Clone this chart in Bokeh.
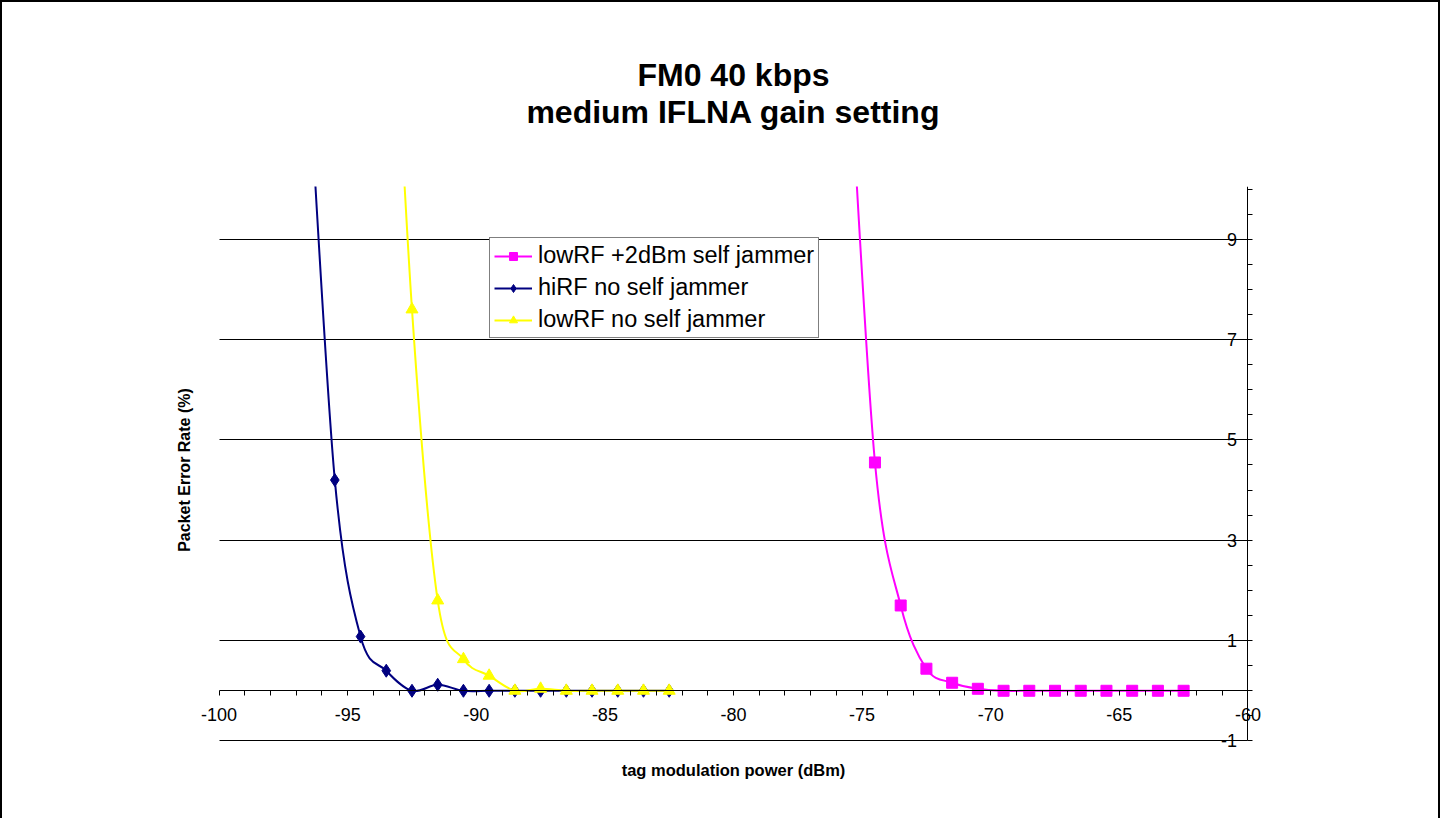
import numpy as np
from bokeh.plotting import figure
from bokeh.models import (FixedTicker, Range1d, Title, Legend, LegendItem,
                          ColumnDataSource, LabelSet, Grid)
from bokeh.core.properties import value
from bokeh.embed import file_html
from bokeh.resources import INLINE

# ---------------- data ----------------
x_hirf = [-96.5, -95.5, -94.5, -93.5, -92.5, -91.5, -90.5, -89.5, -88.5, -87.5, -86.5, -85.5, -84.5, -83.5, -82.5]
y_hirf = [12.2, 4.2, 1.08, 0.4, 0.0, 0.12, 0.0, 0.0, 0.0, 0.0, 0.0, 0.0, 0.0, 0.0, 0.0]

x_lowrf = [-93.5, -92.5, -91.5, -90.5, -89.5, -88.5, -87.5, -86.5, -85.5, -84.5, -83.5, -82.5]
y_lowrf = [17.0, 7.6, 1.8, 0.63, 0.3, 0.0, 0.04, 0.0, 0.0, 0.0, 0.0, 0.0]

x_jam = [-75.5, -74.5, -73.5, -72.5, -71.5, -70.5, -69.5, -68.5, -67.5, -66.5, -65.5, -64.5, -63.5, -62.5]
y_jam = [12.7, 4.55, 1.7, 0.44, 0.16, 0.04, 0.0, 0.0, 0.0, 0.0, 0.0, 0.0, 0.0, 0.0]

series_names = ["lowRF +2dBm self jammer", "hiRF no self jammer", "lowRF no self jammer"]

x_ticks = [-100, -95, -90, -85, -80, -75, -70, -65, -60]
x_tick_labels = ["-100", "-95", "-90", "-85", "-80", "-75", "-70", "-65", "-60"]
x_minor_ticks = list(range(-100, -59))
y_ticks = [-1, 1, 3, 5, 7, 9]
y_tick_labels = ["-1", "1", "3", "5", "7", "9"]
y_minor_ticks = list(np.arange(-1, 10.01, 0.5))

title_lines = ["FM0 40 kbps", "medium IFLNA gain setting"]
x_title = "tag modulation power (dBm)"
y_title = "Packet Error Rate (%)"

FONT = "Liberation Sans"
X_MIN, X_MAX = -100, -60


def smooth_segments(xs, ys):
    """Bezier control points for a smoothed line through the data points."""
    xs = np.asarray(xs, float)
    ys = np.asarray(ys, float)
    n = len(xs)
    xp = np.concatenate([[xs[0]], xs, [xs[-1]]])
    yp = np.concatenate([[ys[0]], ys, [ys[-1]]])
    cx0 = xp[1:n] + (xp[2:n + 1] - xp[0:n - 1]) / 6.0
    cy0 = yp[1:n] + (yp[2:n + 1] - yp[0:n - 1]) / 6.0
    cx1 = xp[2:n + 1] - (xp[3:n + 2] - xp[1:n]) / 6.0
    cy1 = yp[2:n + 1] - (yp[3:n + 2] - yp[1:n]) / 6.0
    return dict(x0=xs[:-1], y0=ys[:-1], x1=xs[1:], y1=ys[1:],
                cx0=cx0, cy0=cy0, cx1=cx1, cy1=cy1)


p = figure(width=1440, height=818, output_backend="svg", toolbar_location=None,
           x_range=Range1d(-100.8, -59.2), y_range=Range1d(-1.25, 10.05),
           y_axis_location="right",
           min_border_left=196, min_border_right=174, min_border_top=184, min_border_bottom=67)
p.styles = {"border-left": "2px solid black", "border-top": "2px solid black",
            "border-right": "2px solid black"}
p.outline_line_color = None
p.background_fill_color = "white"
p.border_fill_color = "white"

# x axis crossing at y = 0
xax = p.xaxis[0]
xax.fixed_location = 0
xax.bounds = (X_MIN, X_MAX)
xax.ticker = FixedTicker(ticks=[], minor_ticks=x_minor_ticks)
xax.axis_line_color = "black"
xax.major_tick_in = 0
xax.major_tick_out = 0
xax.minor_tick_in = 0
xax.minor_tick_out = 5
xax.minor_tick_line_color = "black"
xax.major_label_standoff = 0

# y axis at x = -60
yax = p.yaxis[0]
yax.fixed_location = X_MAX
yax.bounds = (-1, 10.05)
yax.ticker = FixedTicker(ticks=[], minor_ticks=y_minor_ticks)
yax.axis_line_color = "black"
yax.major_tick_in = 0
yax.major_tick_out = 0
yax.minor_tick_in = 0
yax.minor_tick_out = 5
yax.minor_tick_line_color = "black"
yax.major_label_standoff = 0

# horizontal grid lines at the labelled values, limited to the axis span
p.xgrid.visible = False
if "cross_bounds" in Grid.properties():
    p.ygrid.ticker = FixedTicker(ticks=y_ticks)
    p.ygrid.cross_bounds = (X_MIN, X_MAX)
    p.ygrid.grid_line_color = "black"
    p.ygrid.grid_line_width = 1
else:
    p.ygrid.visible = False
    p.segment(x0=X_MIN, x1=X_MAX, y0=y_ticks, y1=y_ticks, line_color="black", line_width=1)

# tick labels
xlab_src = ColumnDataSource(dict(x=x_ticks, y=[0] * len(x_ticks), text=x_tick_labels))
p.add_layout(LabelSet(x="x", y="y", text="text", source=xlab_src, y_offset=-24,
                      text_align="center", text_baseline="middle",
                      text_font=value(FONT), text_font_size=value("18px"), text_color="black"))
ylab_src = ColumnDataSource(dict(x=[X_MAX] * len(y_ticks), y=y_ticks, text=y_tick_labels))
p.add_layout(LabelSet(x="x", y="y", text="text", source=ylab_src, x_offset=-11,
                      text_align="right", text_baseline="middle",
                      text_font=value(FONT), text_font_size=value("18px"), text_color="black"))

# series
colors = ["#FF00FF", "#000080", "#FFFF00"]
xs_all = [x_jam, x_hirf, x_lowrf]
ys_all = [y_jam, y_hirf, y_lowrf]
markers = ["square", "diamond", "triangle"]
sizes = [11, 13, 12]
items = []
for name, xs, ys, c, m, s in zip(series_names, xs_all, ys_all, colors, markers, sizes):
    seg = ColumnDataSource(smooth_segments(xs, ys))
    bz = p.bezier(x0="x0", y0="y0", x1="x1", y1="y1", cx0="cx0", cy0="cy0",
                  cx1="cx1", cy1="cy1", source=seg, line_color=c, line_width=2)
    sc = p.scatter(x=xs, y=ys, marker=m, size=s, fill_color=c, line_color=c)
    items.append(LegendItem(label=name, renderers=[bz, sc]))

legend = Legend(items=items, location=(291, 415), margin=0, padding=4, spacing=5,
                label_standoff=6, glyph_width=38, glyph_height=20,
                label_text_font=FONT, label_text_font_size="23.5px", label_text_color="black",
                border_line_color="black", border_line_width=1,
                background_fill_color="white", background_fill_alpha=1.0)
p.add_layout(legend)

# titles
main_title = Title(text="\n".join(title_lines), align="center", vertical_align="top",
                   text_font=FONT, text_font_size="32px", text_font_style="bold",
                   text_color="black", standoff=108)
if "text_align" in Title.properties():
    main_title.text_align = "center"
if "text_line_height" in Title.properties():
    main_title.text_line_height = 1.05
p.add_layout(main_title, "above")
p.add_layout(Title(text=x_title, align="center", text_font=FONT, text_font_size="16.5px",
                   text_font_style="bold", text_color="black", standoff=10), "below")
p.add_layout(Title(text=y_title, align="center", text_font=FONT, text_font_size="16px",
                   text_font_style="bold", text_color="black", standoff=12), "left")

open("out.html", "w").write(file_html(p, INLINE))
